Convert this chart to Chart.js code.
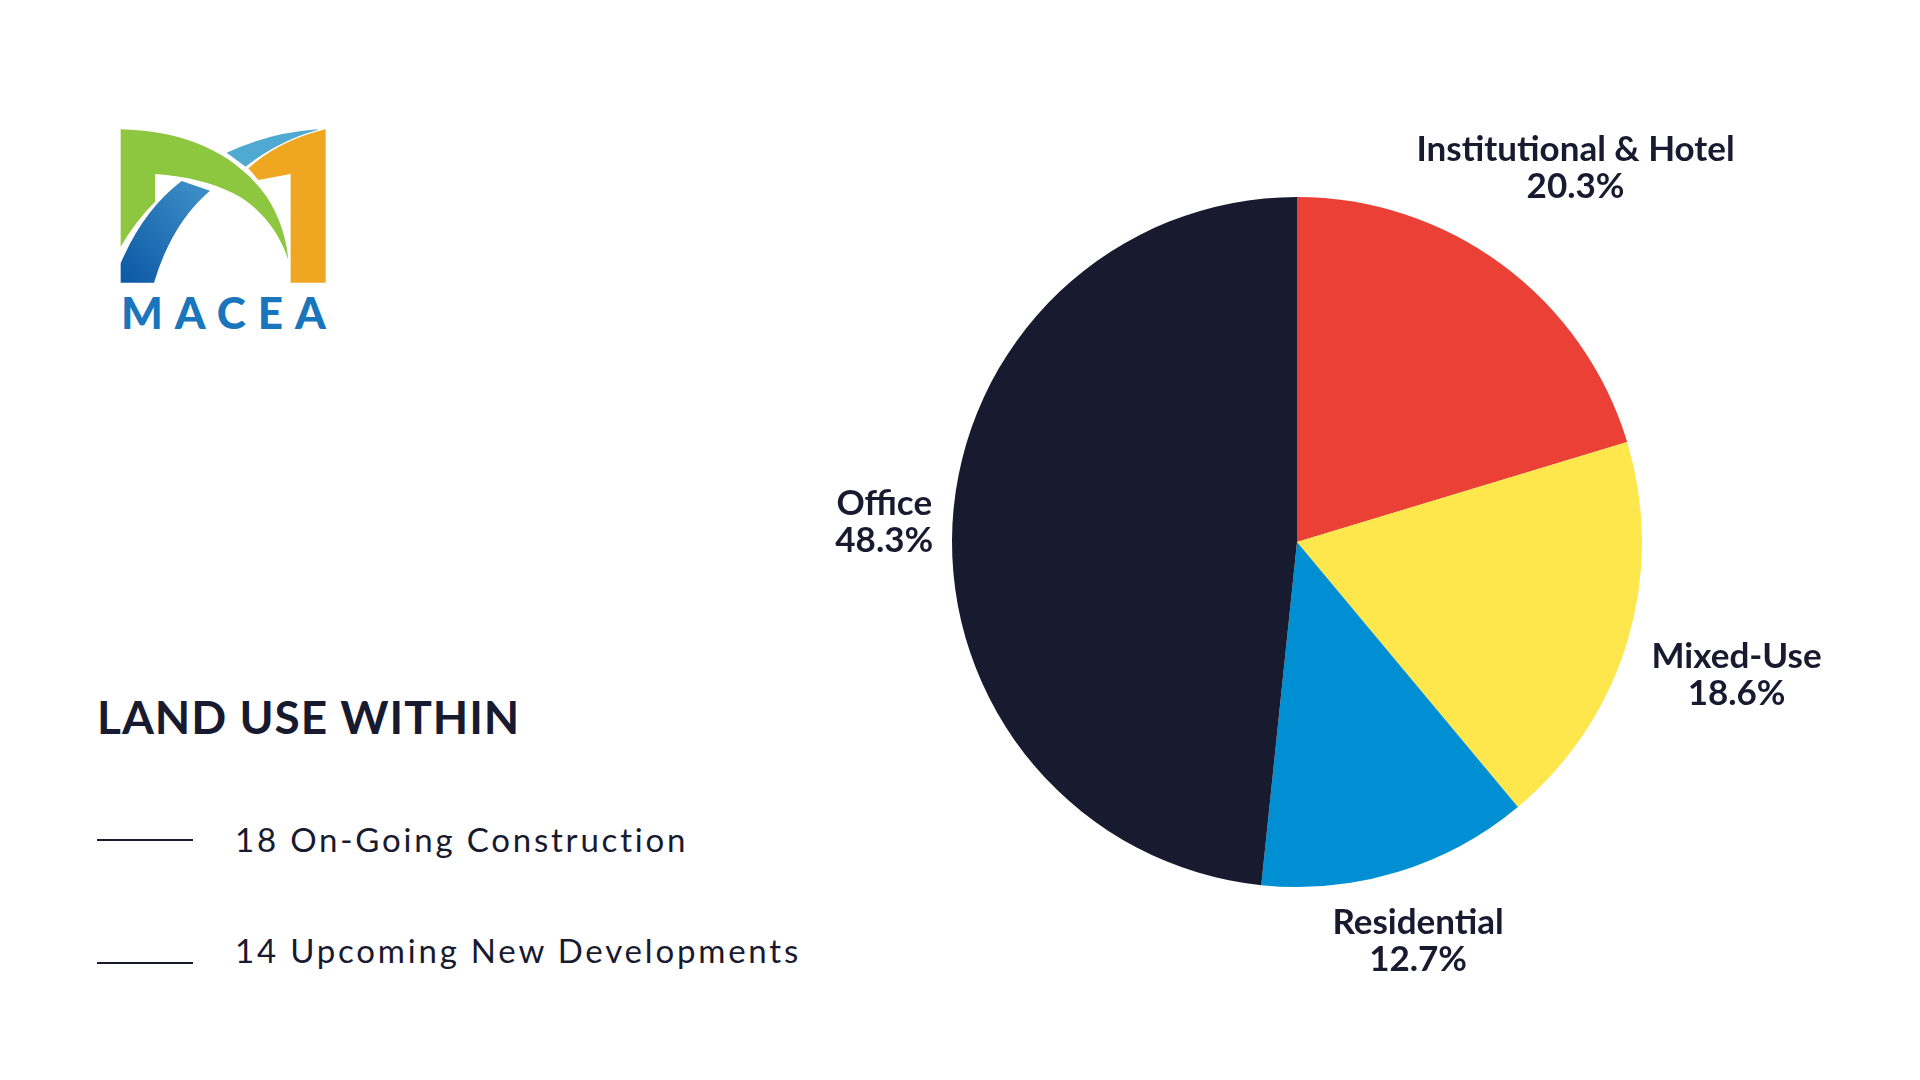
<!DOCTYPE html>
<html>
<head>
<meta charset="utf-8">
<title>Land Use Within</title>
<script src="https://cdn.jsdelivr.net/npm/chart.js@4.4.1/dist/chart.umd.min.js"></script>
<style>
  html, body { margin: 0; padding: 0; background: #ffffff; }
  body { width: 1920px; height: 1080px; position: relative; overflow: hidden; font-family: Lato, "Noto Sans", sans-serif; color: #181a2f; }
  #chart { position: absolute; left: 0; top: 0; }
  .logo { position: absolute; left: 80px; top: 100px; width: 280px; height: 260px; }
  .brand { position: absolute; left: 121px; top: 290px; font-weight: 900; font-size: 44px; line-height: 44px; letter-spacing: 12px; color: #1976bd; }
  .title { position: absolute; left: 97px; top: 694px; font-weight: 700; font-size: 46px; line-height: 46px; letter-spacing: 1px; margin: 0; }
  .item { position: absolute; left: 97px; height: 40px; }
  .item .rule { position: absolute; left: 0; width: 96px; border-top: 2px solid #181a2f; }
  .item span { position: absolute; left: 138px; top: 0; white-space: nowrap; font-weight: 400; font-size: 33px; line-height: 33px; letter-spacing: 2.8px; }
</style>
</head>
<body>
<svg class="logo" viewBox="0 0 840 780">
  <defs>
    <linearGradient id="blueArc" x1="0" y1="1" x2="1" y2="0">
      <stop offset="0" stop-color="#0b57a4"/>
      <stop offset="1" stop-color="#4193cb"/>
    </linearGradient>
  </defs>
  <path d="M122,548 L122,490 Q190,330 305,243 L390,272 Q275,370 222,548 Z" fill="url(#blueArc)"/>
  <path d="M440,158 Q570,98 712,88 L716,96 Q600,118 497,200 Z" fill="#4fa9d1"/>
  <path d="M122,88 C300,92 460,150 560,290 C600,350 620,420 625,480 C600,400 540,320 460,280 C400,250 320,228 225,222 L225,305 Q165,365 122,440 Z" fill="#8dc63f" stroke="#ffffff" stroke-width="8" paint-order="stroke"/>
  <path d="M737,88 L737,548 L632,548 L632,222 L535,240 L505,205 Q600,120 737,88 Z" fill="#efa722" stroke="#ffffff" stroke-width="8" paint-order="stroke"/>
</svg>
<div class="brand">MACEA</div>

<h1 class="title">LAND USE WITHIN</h1>
<div class="item" style="top:823px"><div class="rule" style="top:16px"></div><span>18 On-Going Construction</span></div>
<div class="item" style="top:934px"><div class="rule" style="top:28px"></div><span>14 Upcoming New Developments</span></div>

<canvas id="chart" width="1920" height="1080"></canvas>

<script>
// land use shares, clockwise from 12 o'clock
const categories = ["Institutional & Hotel", "Mixed-Use", "Residential", "Office"]
const shares = [20.3, 18.6, 12.7, 48.3]
const sliceColors = ["#ea4036", "#fde74c", "#008fd3", "#181a2f"]

// how far each label's centre sits from the pie centre, in radii
const labelDistance = [1.355, 1.33, 1.205, 1.198]

const sliceLabels = {
  id: "sliceLabels",
  afterDatasetsDraw(chart) {
    const ctx = chart.ctx
    const meta = chart.getDatasetMeta(0)
    ctx.save()
    ctx.fillStyle = "#181a2f"
    ctx.font = "bold 35px Lato"
    ctx.textAlign = "center"
    ctx.textBaseline = "middle"
    meta.data.forEach((arc, i) => {
      const p = arc.getProps(["x", "y", "startAngle", "endAngle", "outerRadius"], true)
      const mid = (p.startAngle + p.endAngle) / 2
      const d = p.outerRadius * labelDistance[i]
      const cx = p.x + Math.cos(mid) * d
      const cy = p.y + Math.sin(mid) * d
      ctx.fillText(categories[i], cx, cy - 17)
      ctx.fillText(shares[i].toFixed(1) + "%", cx, cy + 20)
    })
    ctx.restore()
  }
}

function renderChart() {
  new Chart(document.getElementById("chart"), {
    type: "pie",
    data: {
      labels: categories,
      datasets: [{
        data: shares,
        backgroundColor: sliceColors,
        borderWidth: 0
      }]
    },
    options: {
      responsive: false,
      animation: false,
      devicePixelRatio: 1,
      layout: { padding: { left: 952, right: 278, top: 197, bottom: 193 } },
      plugins: { legend: { display: false }, tooltip: { enabled: false } }
    },
    plugins: [sliceLabels]
  })
}

document.fonts.load("bold 35px Lato").then(renderChart, renderChart)
</script>
</body>
</html>
